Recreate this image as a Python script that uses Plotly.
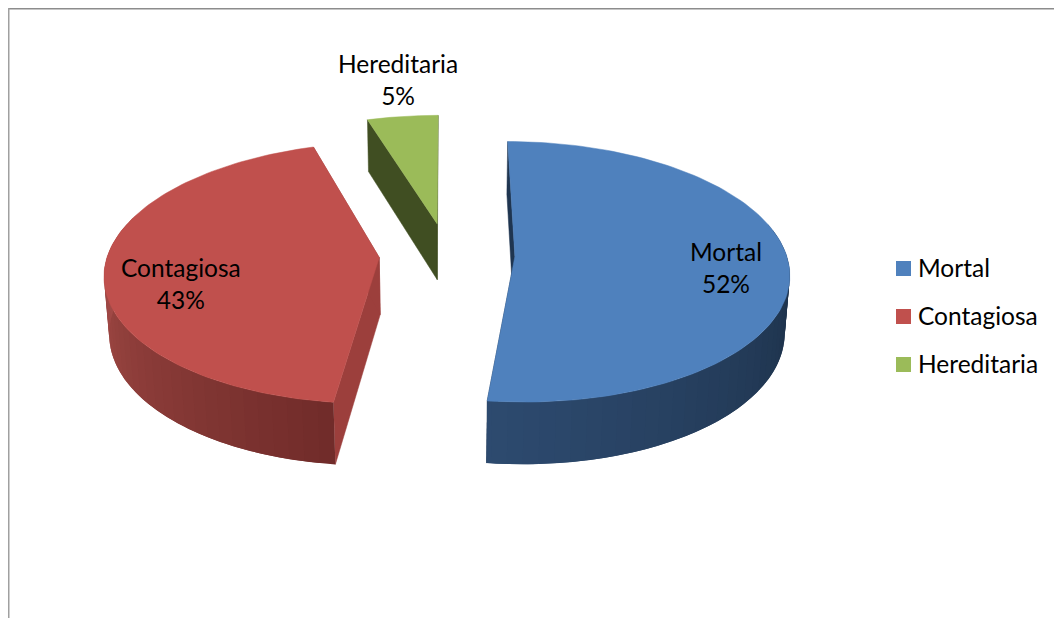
import numpy as np
import plotly.graph_objects as go

# chart data, the labels show these rounded
categories = ['Mortal', 'Contagiosa', 'Hereditaria']
percent = [51.9, 43.3, 4.8]

# styling
top_colors = ['#4F81BD', '#C0504D', '#9BBB59']
inner_wall_colors = ['#1F3550', '#9C3F3C', '#404E22']
# outer wall gradient: colour at the first / second angle (deg)
wall_grad = [
    ((187, (46, 75, 112)), (100, (30, 51, 76))),
    ((187, (113, 44, 42)), (275, (165, 76, 72))),
    ((342, (64, 78, 34)), (360, (64, 78, 34))),
]
label_pos = [(725.5, 267), (180.5, 283), (397.5, 79)]
FONT = 'Lato'
FONT_SIZE = 24.5

# the page has an 8px body margin, so the plot area starts at 8,8 of the window
PAGE_MARGIN = 8
WIDTH, HEIGHT = 1062, 618

# pie projection, tuned by eye against the picture
CX, CY = 447, 254.5
FX, FY = 271.5, 128
PERSP, DEPTH, DEPTH_PERSP = 0.118, 57.9, 0.015
EXPLODE = 0.25


def project(u, v, z=0.0):
    w = 1 + PERSP * v + DEPTH_PERSP * z
    return CX + FX * u / w, CY + (-FY * v + DEPTH * z) / w


def rim(theta, mid, z=0.0):
    t = np.radians(theta)
    m = np.radians(mid)
    return project(EXPLODE * np.sin(m) + np.sin(t), EXPLODE * np.cos(m) + np.cos(t), z)


def apex(mid, z=0.0):
    m = np.radians(mid)
    return project(EXPLODE * np.sin(m), EXPLODE * np.cos(m), z)


def polygon(xs, ys, color, width=0.5):
    return go.Scatter(x=list(xs), y=list(ys), mode='lines', fill='toself', fillcolor=color,
                      line=dict(color=color, width=width), hoverinfo='skip', showlegend=False)


def wall_color(i, theta):
    (a0, c0), (a1, c1) = wall_grad[i]
    s = min(max((theta - a0) / (a1 - a0), 0), 1)
    r, g, b = [int(c0[n] + (c1[n] - c0[n]) * s) for n in range(3)]
    return f'rgb({r},{g},{b})'


fig = go.Figure()

total = sum(percent)
start = 0.0
for i, pct in enumerate(percent):
    end = start + 360 * pct / total
    mid = (start + end) / 2

    # radial walls
    for edge in (start, end):
        ax0, ay0 = apex(mid)
        ax1, ay1 = apex(mid, 1)
        rx0, ry0 = rim(edge, mid)
        rx1, ry1 = rim(edge, mid, 1)
        fig.add_trace(polygon([ax0, rx0, rx1, ax1, ax0], [ay0, ry0, ry1, ay1, ay0], inner_wall_colors[i]))

    # outer wall, only the front part shows. strips overlap so no seams show
    edges = np.arange(start, end + 3, 3.0)
    edges[-1] = end
    for a, b in zip(edges[:-1], edges[1:]):
        if np.cos(np.radians((a + b) / 2)) > 0.25:
            continue
        th = np.linspace(a, min(b + 3, end), 7)
        x0, y0 = rim(th, mid)
        x1, y1 = rim(th[::-1], mid, 1)
        fig.add_trace(polygon(np.r_[x0, x1, x0[0]], np.r_[y0, y1, y0[0]], wall_color(i, (a + b) / 2), width=0))

    # top face
    th = np.linspace(start, end, 120)
    x, y = rim(th, mid)
    ax, ay = apex(mid)
    fig.add_trace(polygon(np.r_[ax, x, ax], np.r_[ay, y, ay], top_colors[i]))

    start = end

# data labels
for i, name in enumerate(categories):
    fig.add_annotation(x=label_pos[i][0], y=label_pos[i][1], text=f'{name}<br>{round(percent[i])}%',
                       showarrow=False, font=dict(family=FONT, size=FONT_SIZE, color='#000000'), align='center')

# legend, drawn by hand: plotly's own legend can't get the swatch this close to the text
for i, name in enumerate(categories):
    ly = 268.5 + 48 * i
    fig.add_trace(go.Scatter(x=[903.5], y=[ly], mode='markers', name=name, hoverinfo='skip', showlegend=False,
                             marker=dict(symbol='square', size=15, color=top_colors[i])))
    fig.add_annotation(x=916, y=ly - 1, text=name, showarrow=False, xanchor='left',
                       font=dict(family=FONT, size=FONT_SIZE, color='#000000'))

# chart frame, only top and left are in the crop
fig.add_shape(type='line', x0=8, x1=WIDTH, y0=8.75, y1=8.75, line=dict(color='#8C8C8C', width=1.5))
fig.add_shape(type='line', x0=8.75, x1=8.75, y0=8, y1=HEIGHT, line=dict(color='#A0A0A0', width=1.5))

fig.update_layout(
    width=WIDTH - PAGE_MARGIN, height=HEIGHT - PAGE_MARGIN, autosize=False,
    margin=dict(l=0, r=0, t=0, b=0),
    paper_bgcolor='white', plot_bgcolor='white',
    xaxis=dict(range=[PAGE_MARGIN, WIDTH], visible=False, fixedrange=True),
    yaxis=dict(range=[HEIGHT, PAGE_MARGIN], visible=False, fixedrange=True),
    font=dict(family=FONT, color='#000000'),
    showlegend=False,
)

fig.write_html("out.html")
